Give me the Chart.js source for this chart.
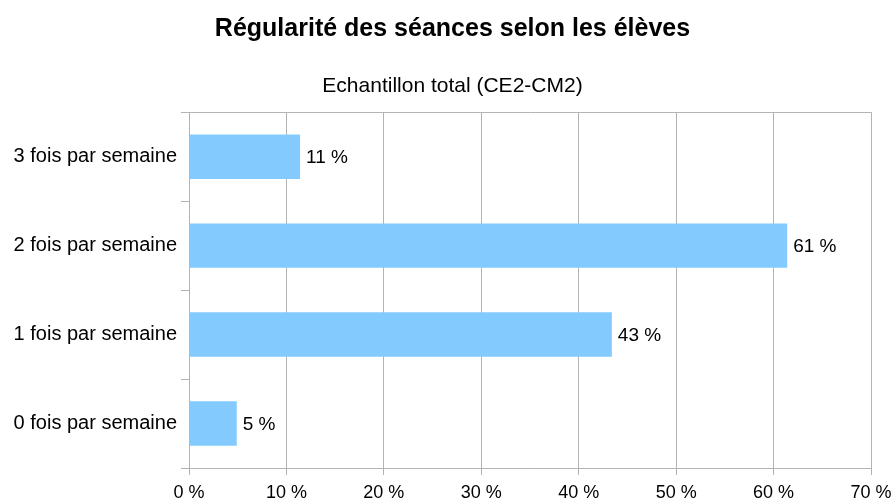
<!DOCTYPE html>
<html>
<head>
<meta charset="utf-8">
<script src="https://cdn.jsdelivr.net/npm/chart.js@4"></script>
<style>
  html, body { margin: 0; padding: 0; background: #fff; }
  #wrap { width: 895px; height: 502px; }
</style>
</head>
<body>
<div id="wrap"><canvas id="report-chart" width="895" height="502"></canvas></div>
<script>
// chart data
const categories = ['3 fois par semaine', '2 fois par semaine', '1 fois par semaine', '0 fois par semaine'];
const values = [11.4, 61.4, 43.4, 4.9];
const xTicks = [0, 10, 20, 30, 40, 50, 60, 70];

const FONT = '"Liberation Sans", Arial, sans-serif';
const GRID = '#b3b3b3';

// draws "11 %" after each bar
const valueLabels = {
    id: 'valueLabels',
    afterDatasetsDraw(chart) {
        const ctx = chart.ctx;
        const meta = chart.getDatasetMeta(0);
        ctx.save();
        ctx.font = '19px ' + FONT;
        ctx.fillStyle = '#000';
        ctx.textAlign = 'left';
        ctx.textBaseline = 'middle';
        meta.data.forEach((bar, i) => {
            ctx.fillText(Math.round(values[i]) + ' %', bar.x + 6, bar.y + 1);
        });
        ctx.restore();
    }
};

const ctx = document.getElementById('report-chart').getContext('2d');
new Chart(ctx, {
    type: 'bar',
    data: {
        labels: categories,
        datasets: [{
            data: values,
            backgroundColor: '#83caff',
            borderWidth: 0,
            barPercentage: 0.5,
            categoryPercentage: 1
        }]
    },
    plugins: [valueLabels],
    options: {
        indexAxis: 'y',
        responsive: false,
        animation: false,
        layout: { padding: { left: 10, right: 0, top: 0, bottom: 0 } },
        plugins: {
            legend: { display: false },
            tooltip: { enabled: false },
            title: {
                display: true,
                text: 'Régularité des séances selon les élèves',
                color: '#000',
                font: { family: FONT, size: 25, weight: 'bold' },
                padding: { top: 14, bottom: 30 }
            },
            subtitle: {
                display: true,
                text: 'Echantillon total (CE2-CM2)',
                color: '#000',
                font: { family: FONT, size: 21 },
                padding: { top: 0, bottom: 13 }
            }
        },
        scales: {
            x: {
                min: 0,
                max: 70,
                afterBuildTicks(scale) {
                    scale.ticks = xTicks.map(v => ({ value: v }));
                },
                afterFit(scale) {
                    scale.height = 34;
                    scale.paddingLeft = 0;
                    scale.paddingRight = 24;
                },
                ticks: {
                    color: '#000',
                    font: { family: FONT, size: 18 },
                    padding: 7,
                    callback: v => v + ' %'
                },
                grid: { color: GRID, tickColor: GRID, tickLength: 7 },
                border: { color: GRID }
            },
            y: {
                ticks: {
                    color: '#000',
                    font: { family: FONT, size: 20 },
                    padding: 4
                },
                afterFit(scale) { scale.width = 179; },
                grid: {
                    offset: true,
                    color: c => (c.index === 0 || c.index === categories.length) ? GRID : 'rgba(0,0,0,0)',
                    tickColor: GRID,
                    tickLength: 8
                },
                border: { color: GRID }
            }
        }
    }
});
</script>
</body>
</html>
